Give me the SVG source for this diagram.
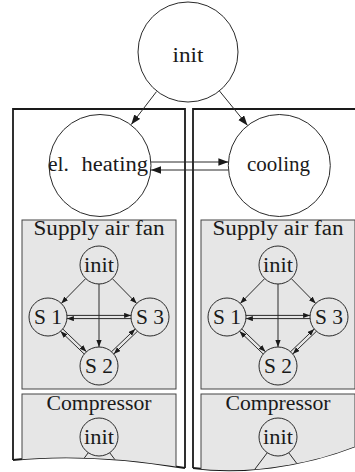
<svg xmlns="http://www.w3.org/2000/svg" width="355" height="472" viewBox="0 0 355 472">
<style>
.frame{fill:none;stroke:#1a1a1a;stroke-width:1.8}
.sub{fill:#e6e6e6;stroke:#444;stroke-width:1}
.node{fill:none;stroke:#2a2a2a;stroke-width:1}
.bg{fill:#fff;stroke:#2a2a2a;stroke-width:1}
.lbl{font-family:'Liberation Serif','DejaVu Serif',serif;font-size:20.5px;fill:#1a1a1a;text-anchor:middle}
.e{fill:none;stroke:#2a2a2a;stroke-width:1}
.big{marker-end:url(#ab)}
.sm{marker-end:url(#as)}
</style>
<defs>
<marker id="ab" markerUnits="userSpaceOnUse" markerWidth="12" markerHeight="10" refX="10" refY="3.7" orient="auto"><path d="M0,0 L10,3.7 L0,7.4 Z" fill="#1a1a1a"/></marker>
<marker id="as" markerUnits="userSpaceOnUse" markerWidth="9" markerHeight="7" refX="7" refY="2.6" orient="auto"><path d="M0,0 L7,2.6 L0,5.2 Z" fill="#1a1a1a"/></marker>
<clipPath id="clipL"><path d="M13,100 L185,100 L185,468 C120,457 60,455 13,460 Z"/></clipPath>
<clipPath id="clipR"><path d="M193,100 L360,100 L360,444 L356,446 C300,468 240,474 193,468 Z"/></clipPath>
</defs>
<rect width="355" height="472" fill="#fff"/>

<g id="cluster-heating">
<path class="frame" d="M13,460 L13,109 L185,109 L185,468"/>
<path class="frame" d="M13,460 C60,455 120,457 185,468"/>
<g clip-path="url(#clipL)">
<g id="heating-supply-fan-box"><rect class="sub" x="22" y="220" width="154" height="169"/><text class="lbl" x="99" y="235" textLength="131" lengthAdjust="spacingAndGlyphs">Supply air fan</text></g>
<g id="heating-compressor-box"><rect class="sub" x="22" y="394" width="154" height="100"/><text class="lbl" x="99" y="410" textLength="105" lengthAdjust="spacingAndGlyphs">Compressor</text></g>
</g>
</g>

<g id="cluster-cooling">
<path class="frame" d="M193,468 L193,109 L356,109"/>
<path class="frame" d="M193,468 C240,474 300,468 356,446"/>
<g clip-path="url(#clipR)">
<g id="cooling-supply-fan-box"><rect class="sub" x="201" y="220" width="154" height="169"/><text class="lbl" x="278" y="235" textLength="131" lengthAdjust="spacingAndGlyphs">Supply air fan</text></g>
<g id="cooling-compressor-box"><rect class="sub" x="201" y="394" width="154" height="100"/><text class="lbl" x="278" y="410" textLength="105" lengthAdjust="spacingAndGlyphs">Compressor</text></g>
</g>
</g>

<g id="connectors">
<line class="e big" x1="156.5" y1="91.6" x2="131.2" y2="124.6"/>
<line class="e big" x1="219.5" y1="91" x2="247.5" y2="125.4"/>
<line class="e big" x1="151" y1="162" x2="228.4" y2="162"/>
<line class="e big" x1="228.4" y1="170" x2="151" y2="170"/>
<g id="heating-fan-edges">
<line class="e sm" x1="85.7" y1="278.6" x2="61.3" y2="303.4"/>
<line class="e sm" x1="112.3" y1="278.6" x2="136.7" y2="303.4"/>
<line class="e sm" x1="99" y1="284" x2="99" y2="347"/>
<line class="e sm" x1="66.9" y1="315.4" x2="131.1" y2="315.4"/>
<line class="e sm" x1="131.1" y1="318.6" x2="66.9" y2="318.6"/>
<line class="e sm" x1="62.76" y1="328.97" x2="86.46" y2="351.73"/>
<line class="e sm" x1="84.24" y1="354.03" x2="60.54" y2="331.27"/>
<line class="e sm" x1="111.54" y1="351.73" x2="135.24" y2="328.97"/>
<line class="e sm" x1="137.46" y1="331.27" x2="113.76" y2="354.03"/>
</g>
<g id="cooling-fan-edges" transform="translate(179,0)">
<line class="e sm" x1="85.7" y1="278.6" x2="61.3" y2="303.4"/>
<line class="e sm" x1="112.3" y1="278.6" x2="136.7" y2="303.4"/>
<line class="e sm" x1="99" y1="284" x2="99" y2="347"/>
<line class="e sm" x1="66.9" y1="315.4" x2="131.1" y2="315.4"/>
<line class="e sm" x1="131.1" y1="318.6" x2="66.9" y2="318.6"/>
<line class="e sm" x1="62.76" y1="328.97" x2="86.46" y2="351.73"/>
<line class="e sm" x1="84.24" y1="354.03" x2="60.54" y2="331.27"/>
<line class="e sm" x1="111.54" y1="351.73" x2="135.24" y2="328.97"/>
<line class="e sm" x1="137.46" y1="331.27" x2="113.76" y2="354.03"/>
</g>
<g clip-path="url(#clipL)">
<line class="e" x1="88.3" y1="452.7" x2="76" y2="469"/>
<line class="e" x1="109.7" y1="452.7" x2="122" y2="469"/>
</g>
<g clip-path="url(#clipR)">
<line class="e" x1="267.3" y1="452.7" x2="252" y2="473"/>
<line class="e" x1="288.7" y1="452.7" x2="304" y2="473"/>
</g>
</g>

<g id="init"><circle class="bg" cx="188" cy="52" r="50"/><text class="lbl" x="188" y="62" textLength="31" lengthAdjust="spacingAndGlyphs">init</text></g>
<g id="el-heating"><circle class="node" cx="100" cy="165.5" r="51"/><text class="lbl" y="171" style="text-anchor:start"><tspan x="48" textLength="21" lengthAdjust="spacingAndGlyphs">el.</tspan><tspan x="81.5" textLength="66.5" lengthAdjust="spacingAndGlyphs">heating</tspan></text></g>
<g id="cooling"><circle class="node" cx="279.3" cy="165.5" r="51"/><text class="lbl" x="278.5" y="171" textLength="63" lengthAdjust="spacingAndGlyphs">cooling</text></g>

<g id="heating-fan-init"><circle class="node" cx="99" cy="265" r="19"/><text class="lbl" x="99" y="271.5" textLength="30" lengthAdjust="spacingAndGlyphs">init</text></g>
<g id="heating-fan-s1"><circle class="node" cx="48" cy="317" r="19"/><text class="lbl" x="48" y="323.5" textLength="28" lengthAdjust="spacingAndGlyphs">S 1</text></g>
<g id="heating-fan-s3"><circle class="node" cx="150" cy="317" r="19"/><text class="lbl" x="150" y="323.5" textLength="28" lengthAdjust="spacingAndGlyphs">S 3</text></g>
<g id="heating-fan-s2"><circle class="node" cx="99" cy="366" r="19"/><text class="lbl" x="99" y="372.5" textLength="28" lengthAdjust="spacingAndGlyphs">S 2</text></g>
<g id="heating-comp-init" clip-path="url(#clipL)"><circle class="node" cx="99" cy="437" r="19"/><text class="lbl" x="99" y="443.5" textLength="30" lengthAdjust="spacingAndGlyphs">init</text></g>

<g id="cooling-fan-init"><circle class="node" cx="278" cy="265" r="19"/><text class="lbl" x="278" y="271.5" textLength="30" lengthAdjust="spacingAndGlyphs">init</text></g>
<g id="cooling-fan-s1"><circle class="node" cx="227" cy="317" r="19"/><text class="lbl" x="227" y="323.5" textLength="28" lengthAdjust="spacingAndGlyphs">S 1</text></g>
<g id="cooling-fan-s3"><circle class="node" cx="329" cy="317" r="19"/><text class="lbl" x="329" y="323.5" textLength="28" lengthAdjust="spacingAndGlyphs">S 3</text></g>
<g id="cooling-fan-s2"><circle class="node" cx="278" cy="366" r="19"/><text class="lbl" x="278" y="372.5" textLength="28" lengthAdjust="spacingAndGlyphs">S 2</text></g>
<g id="cooling-comp-init" clip-path="url(#clipR)"><circle class="node" cx="278" cy="437" r="19"/><text class="lbl" x="278" y="443.5" textLength="30" lengthAdjust="spacingAndGlyphs">init</text></g>
</svg>
